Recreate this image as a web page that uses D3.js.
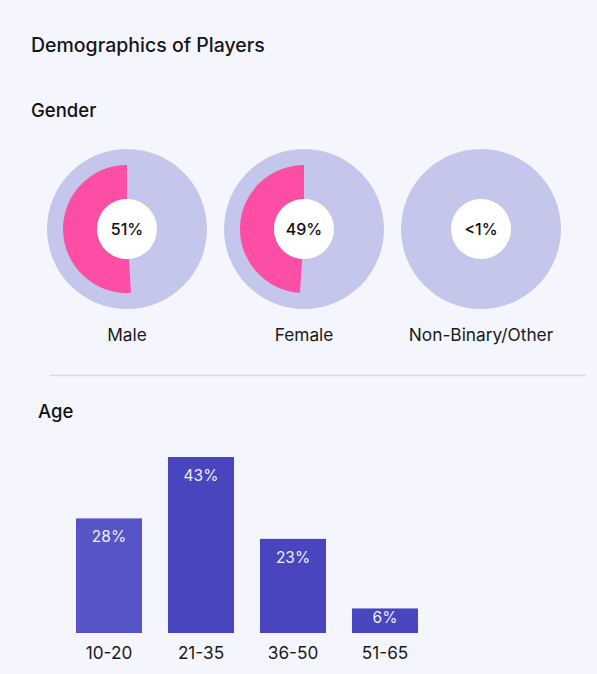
<!DOCTYPE html>
<html>
<head>
<meta charset="utf-8">
<script src="https://cdn.jsdelivr.net/npm/d3@7"></script>
<style>
  html, body { margin: 0; padding: 0; background: #f5f6fd; }
  svg { display: block; font-family: Inter, 'Noto Sans', sans-serif; }
</style>
</head>
<body>
<div id="chart"></div>
<script>
// gender data
const genderLabels = ['Male', 'Female', 'Non-Binary/Other'];
const genderValues = [51, 49, 0];
const genderText = ['51%', '49%', '<1%'];

// age data
const ageGroups = ['10-20', '21-35', '36-50', '51-65'];
const ageValues = [28, 43, 23, 6];

const W = 597;
const H = 674;

const svg = d3.select('#chart').append('svg')
  .attr('width', W)
  .attr('height', H);

svg.append('rect').attr('width', W).attr('height', H).attr('fill', '#f5f6fd');

svg.append('text')
  .attr('x', 31).attr('y', 52)
  .attr('font-size', 19.5)
  .attr('font-weight', 500)
  .attr('fill', '#161616')
  .text('Demographics of Players');

svg.append('text')
  .attr('x', 31).attr('y', 117)
  .attr('font-size', 18.5)
  .attr('font-weight', 500)
  .attr('fill', '#111')
  .text('Gender');

// donuts
const donutX = d3.scalePoint().domain(genderLabels).range([127, 481]);
const donutY = 229;
const R_OUT = 80;
const R_ARC = 64;
const R_IN = 30;

const arc = d3.arc().innerRadius(R_IN).outerRadius(R_ARC);

const $donut = svg.selectAll('.donut')
  .data(genderLabels)
  .join('g')
  .attr('class', 'donut')
  .attr('transform', d => `translate(${donutX(d)}, ${donutY})`);

$donut.append('circle').attr('r', R_OUT).attr('fill', '#c5c6ec');

$donut.append('path')
  .attr('fill', '#fc4ea5')
  .attr('d', (d, i) => arc({
    startAngle: -genderValues[i] / 100 * 2 * Math.PI,
    endAngle: 0,
  }));

$donut.append('circle').attr('r', R_IN).attr('fill', '#ffffff');

$donut.append('text')
  .attr('text-anchor', 'middle')
  .attr('y', 6)
  .attr('font-size', 16)
  .attr('font-weight', 500)
  .attr('fill', '#111')
  .text((d, i) => genderText[i]);

$donut.append('text')
  .attr('text-anchor', 'middle')
  .attr('y', 112)
  .attr('font-size', 17.3)
  .attr('fill', '#1a1a1a')
  .text(d => d);

// divider
svg.append('line')
  .attr('x1', 50).attr('x2', 586)
  .attr('y1', 375.5).attr('y2', 375.5)
  .attr('stroke', '#d9d9e1')
  .attr('stroke-width', 1.5);

svg.append('text')
  .attr('x', 38).attr('y', 418)
  .attr('font-size', 18.5)
  .attr('font-weight', 500)
  .attr('fill', '#111')
  .text('Age');

// bars
const x = d3.scaleBand()
  .domain(ageGroups)
  .range([63, 431])
  .paddingInner(26 / 92)
  .paddingOuter(13 / 92);

const y = d3.scaleLinear().domain([0, 43]).range([633, 457]);

const barColors = ['#5654c7', '#4845be', '#4845be', '#4845be'];

const $bar = svg.selectAll('.bar')
  .data(ageGroups)
  .join('g')
  .attr('class', 'bar');

$bar.append('rect')
  .attr('x', d => x(d))
  .attr('width', x.bandwidth())
  .attr('y', (d, i) => y(ageValues[i]))
  .attr('height', (d, i) => y(0) - y(ageValues[i]))
  .attr('fill', (d, i) => barColors[i]);

// label sits near the top, or mid-bar when the bar is short
$bar.append('text')
  .attr('x', d => x(d) + x.bandwidth() / 2)
  .attr('y', (d, i) => {
    const h = y(0) - y(ageValues[i]);
    return y(ageValues[i]) + Math.min(24, h / 2 + 2);
  })
  .attr('text-anchor', 'middle')
  .attr('font-size', 15.5)
  .attr('fill', '#eef0ff')
  .text((d, i) => `${ageValues[i]}%`);

const $axis = svg.append('g')
  .attr('transform', `translate(0, ${y(0)})`)
  .call(d3.axisBottom(x).tickSize(0).tickPadding(14));

$axis.select('.domain').remove();
$axis.selectAll('text')
  .attr('font-size', 17.2)
  .attr('font-family', "Inter, 'Noto Sans', sans-serif")
  .attr('fill', '#1a1a1a');
</script>
</body>
</html>
